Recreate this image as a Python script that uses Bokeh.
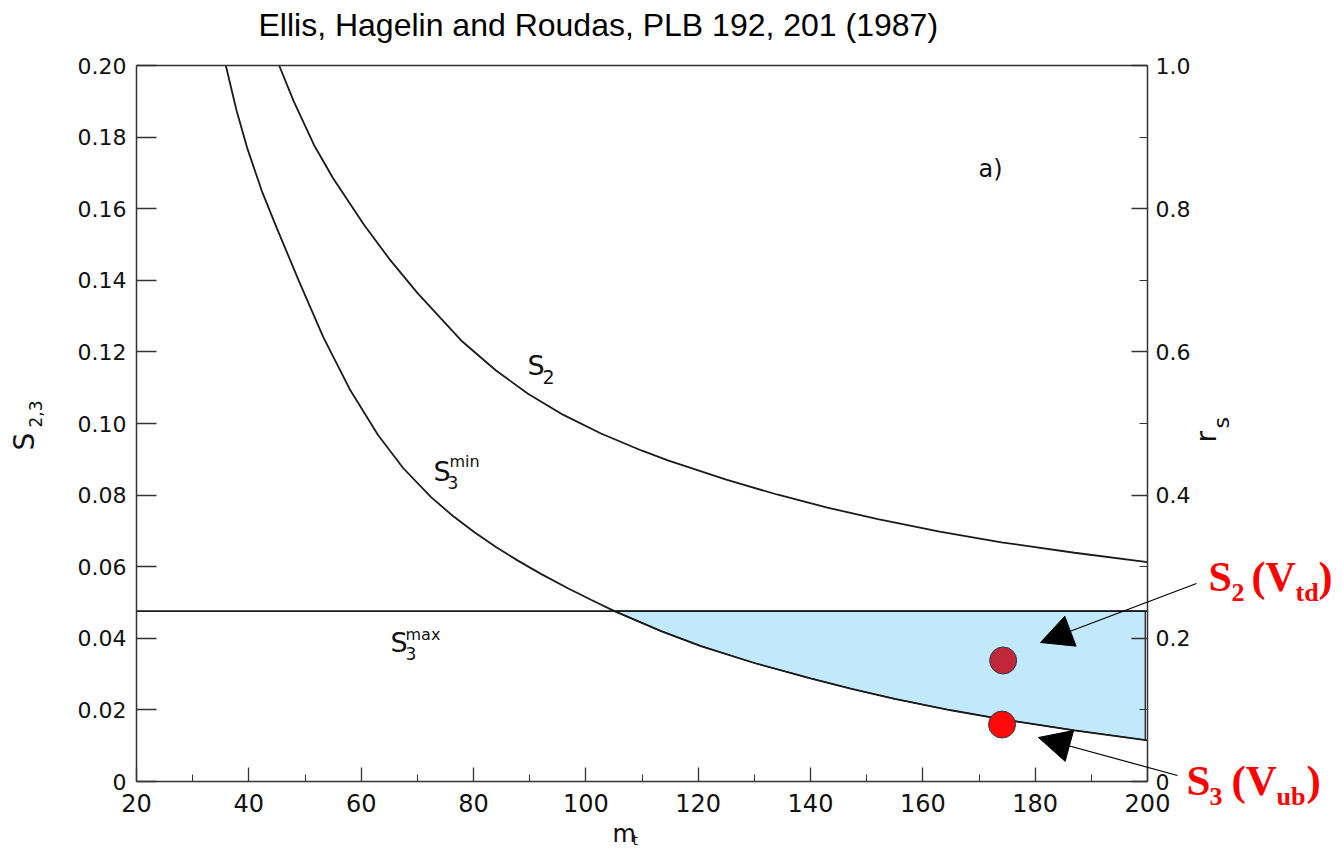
import math
from bokeh.plotting import figure
from bokeh.models import Range1d, LinearAxis, FixedTicker, Label, Arrow, NormalHead
from bokeh.embed import file_html
from bokeh.resources import INLINE

# ---------------- data ----------------
S2_X = [45.4, 48.0, 51.6, 55.0, 60.5, 65.0, 70.0, 77.8, 84.0, 89.7, 96.0, 102.7, 110.0,
        114.6, 125.0, 134.2, 143.0, 152.0, 163.0, 174.0, 187.0, 200.0]
S2_Y = [0.2000, 0.1900, 0.1778, 0.1685, 0.1555, 0.1460, 0.1365, 0.1232, 0.1148, 0.1083,
        0.1024, 0.0972, 0.0924, 0.0897, 0.0843, 0.0801, 0.0765, 0.0733, 0.0698, 0.0668,
        0.0639, 0.0613]

S3MIN_X = [35.9, 37.8, 39.7, 42.3, 45.0, 49.0, 53.3, 58.1, 63.0, 67.5, 72.4, 76.0, 80.1,
           84.0, 87.9, 92.0, 96.8, 101.0, 105.1, 113.4, 120.5, 130.0, 140.0, 147.3, 155.0,
           165.0, 174.0, 187.0, 200.0]
S3MIN_Y = [0.2000, 0.1875, 0.1770, 0.1650, 0.1545, 0.1395, 0.1240, 0.1092, 0.0968, 0.0875,
           0.0795, 0.0746, 0.0697, 0.0655, 0.0617, 0.0580, 0.0540, 0.0507, 0.0476, 0.0420,
           0.0378, 0.0331, 0.0288, 0.0259, 0.0231, 0.0199, 0.0174, 0.0143, 0.0115]

S3MAX = 0.0476          # horizontal limit S3^max
REGION_X_START = 105.1  # where S3^min crosses S3^max
REGION_X_END = 199.6    # right edge of the shaded region

POINT_X = [174.3, 174.1]
POINT_Y = [0.0338, 0.0159]
POINT_COLORS = ["#c0283a", "#ff0a0a"]

X_TICKS = [20, 40, 60, 80, 100, 120, 140, 160, 180, 200]
X_MINOR = [30, 50, 70, 90, 110, 130, 150, 170, 190]
Y_TICKS = [0, 0.02, 0.04, 0.06, 0.08, 0.10, 0.12, 0.14, 0.16, 0.18, 0.20]
Y_LABELS = ["0", "0.02", "0.04", "0.06", "0.08", "0.10", "0.12", "0.14", "0.16", "0.18", "0.20"]
R_TICKS = [0, 0.2, 0.4, 0.6, 0.8, 1.0]
R_MINOR = [0.1, 0.3, 0.5, 0.7, 0.9]
R_LABELS = ["0", "0.2", "0.4", "0.6", "0.8", "1.0"]

TITLE = "Ellis, Hagelin and Roudas, PLB 192, 201 (1987)"

# ---------------- layout: the frame covers the whole page ----------------
W, H = 1342, 853
FX0, FX1 = 136, 1147      # pixel columns of m_t = 20 and 200
FY0, FY1 = 781, 65        # pixel rows of S = 0 and 0.20
SX = (FX1 - FX0) / 180.0
SY = (FY0 - FY1) / 0.20


def dx(px):
    return 20 + (px - FX0) / SX


def dy(py):
    return (FY0 - py) / SY


p = figure(width=W, height=H, output_backend="svg", toolbar_location=None,
           x_range=Range1d(dx(0), dx(W)), y_range=Range1d(dy(H), dy(0)),
           x_axis_location=None, y_axis_location=None, min_border=0)
p.grid.visible = False
p.outline_line_color = None
p.background_fill_color = "white"
p.border_fill_color = "white"

SCAN_FONT = "DejaVu Sans"
AX = "#333333"
common = dict(axis_line_color=AX, axis_line_width=1.5, major_tick_line_color=AX,
              minor_tick_line_color=AX, major_tick_line_width=1.3, major_tick_out=0,
              minor_tick_out=0, major_label_text_font=SCAN_FONT, major_label_text_color="#111111")

xaxis = LinearAxis(fixed_location=0, bounds=(20, 200),
                   ticker=FixedTicker(ticks=X_TICKS, minor_ticks=X_MINOR),
                   major_label_overrides={t: str(t) for t in X_TICKS},
                   major_tick_in=14, minor_tick_in=7,
                   major_label_text_font_size="24px", major_label_standoff=12, **common)
p.add_layout(xaxis, "below")

topaxis = LinearAxis(fixed_location=0.2, bounds=(20, 200), ticker=FixedTicker(ticks=[], minor_ticks=[]),
                     major_tick_in=0, minor_tick_in=0, major_label_text_font_size="0px", **common)
p.add_layout(topaxis, "above")

yaxis = LinearAxis(fixed_location=20, bounds=(0, 0.2),
                   ticker=FixedTicker(ticks=Y_TICKS, minor_ticks=[]),
                   major_label_overrides=dict(zip(Y_TICKS, Y_LABELS)),
                   major_tick_in=20, minor_tick_in=0,
                   major_label_text_font_size="22px", major_label_standoff=10, **common)
p.add_layout(yaxis, "left")

p.extra_y_ranges = {"rs": Range1d(5 * dy(H), 5 * dy(0))}
raxis = LinearAxis(y_range_name="rs", fixed_location=200, bounds=(0, 1.0),
                   ticker=FixedTicker(ticks=R_TICKS, minor_ticks=R_MINOR),
                   major_label_overrides=dict(zip(R_TICKS, R_LABELS)),
                   major_tick_in=16, minor_tick_in=8,
                   major_label_text_font_size="22px", major_label_standoff=8, **common)
p.add_layout(raxis, "right")

# shaded allowed region (bounded by S3^max above and S3^min below)
reg = [(x, y) for x, y in zip(S3MIN_X, S3MIN_Y) if REGION_X_START <= x < REGION_X_END]
end_y = S3MIN_Y[-1] + (S3MIN_Y[-2] - S3MIN_Y[-1]) * (S3MIN_X[-1] - REGION_X_END) / (S3MIN_X[-1] - S3MIN_X[-2])
patch_x = [x for x, _ in reg] + [REGION_X_END, REGION_X_END]
patch_y = [y for _, y in reg] + [end_y, S3MAX]
p.patch(patch_x, patch_y, fill_color="#c2e9fb", line_color="#111111", line_width=1.2)

# curves
p.line(S2_X, S2_Y, line_color="#1a1a1a", line_width=1.8)
p.line(S3MIN_X, S3MIN_Y, line_color="#1a1a1a", line_width=1.8)
p.line([20, 200], [S3MAX, S3MAX], line_color="#1a1a1a", line_width=1.8)

# points
p.scatter(POINT_X, POINT_Y, size=27, fill_color=POINT_COLORS, line_color="#2a3a4a", line_width=1)

SHIFT = 0.4   # fraction of font size the rendered baseline lands below the anchor


def lab(px, py, text, size, font=SCAN_FONT, color="#111111", style="normal", rotated=False):
    if rotated:
        px = px - SHIFT * size
    else:
        py = py - SHIFT * size
    p.add_layout(Label(x=dx(px), y=dy(py), text=text, text_font=font, text_font_size=f"{size}px",
                       text_color=color, text_font_style=style,
                       angle=(math.pi / 2 if rotated else 0.0),
                       text_baseline="alphabetic", text_align="left"))


# title
lab(258, 37, TITLE, 32, font="Liberation Sans", color="black")

# curve labels
lab(527, 376, "S", 27)
lab(542, 384, "2", 19)
lab(433, 482, "S", 27)
lab(447, 489, "3", 17)
lab(449, 467, "min", 16)
lab(390, 653, "S", 27)
lab(405, 660, "3", 17)
lab(405, 640, "max", 16)
lab(978, 178, "a)", 24)

# axis titles (rotated, reading upward)
lab(35, 450, "S", 28, rotated=True)
lab(42, 427, "2,3", 17, rotated=True)
lab(1217, 442, "r", 28, rotated=True)
lab(1230, 428, "s", 22, rotated=True)
lab(612, 843, "m", 24)
lab(632, 845, "t", 14)

# red annotations
RED = "#ff0000"
SERIF = "Liberation Serif"
for px, py, t, s in [(1208, 593, "S", 42), (1231, 602, "2", 26), (1251, 593, "(V", 42),
                     (1295, 602, "td", 26), (1318, 593, ")", 42),
                     (1186, 797, "S", 43), (1209, 806, "3", 26), (1231, 797, "(V", 43),
                     (1276, 806, "ub", 26), (1306, 797, ")", 43)]:
    lab(px, py, t, s, font=SERIF, color=RED, style="bold")

# arrows
for (x0, y0, x1, y1) in [(1196, 583, 1040, 642), (1177, 775, 1038, 737)]:
    p.add_layout(Arrow(end=NormalHead(size=32, fill_color="black", line_color="black"),
                       x_start=dx(x0), y_start=dy(y0), x_end=dx(x1), y_end=dy(y1),
                       line_color="black", line_width=1.2))

open("out.html", "w").write(file_html(p, INLINE))
